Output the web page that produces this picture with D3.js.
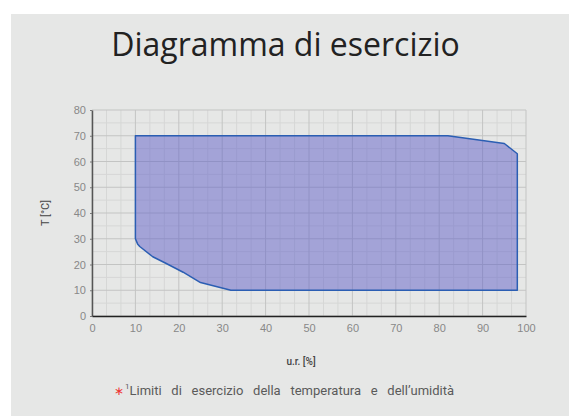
<!DOCTYPE html>
<html>
<head>
<meta charset="utf-8">
<script src="https://cdn.jsdelivr.net/npm/d3@7"></script>
<style>
  body { margin: 0; background: #fff; }
</style>
</head>
<body>
<div class="graph"></div>
<script>
// operating envelope: u.r. [%] vs T [°C]
const humidity    = [10, 10.5, 11, 14, 17, 21, 25, 32, 98, 98, 95, 82, 10]
const temperature = [30, 28, 27, 23, 20.5, 17, 13, 10, 10, 63, 67, 70, 70]

const xTicks = [0, 10, 20, 30, 40, 50, 60, 70, 80, 90, 100]
const yTicks = [0, 10, 20, 30, 40, 50, 60, 70, 80]

const width = 569, height = 416
const margin = {top: 110, right: 43, bottom: 100, left: 92}

const svg = d3.select(".graph").append("svg")
    .attr("width", width)
    .attr("height", height)
    .style("font-family", "Roboto, sans-serif")

svg.append("rect")
    .attr("x", 11)
    .attr("y", 14)
    .attr("width", width - 11)
    .attr("height", height - 14)
    .style("fill", "#e6e7e6")

const scaleX = d3.scaleLinear()
    .domain([0, 100])
    .range([margin.left, width - margin.right])

const scaleY = d3.scaleLinear()
    .domain([0, 80])
    .range([height - margin.bottom, margin.top])

// grid: minor lines first, major on top
const minorX = d3.range(0, 31).map(i => i * 10 / 3).filter(v => Math.abs(v % 10) > 0.01 && Math.abs(v % 10 - 10) > 0.01)
const minorY = d3.range(5, 80, 10)

const grid = svg.append("g")
grid.selectAll(".mx").data(minorX).join("line")
    .attr("x1", d => scaleX(d)).attr("x2", d => scaleX(d))
    .attr("y1", scaleY(0)).attr("y2", scaleY(80))
    .style("stroke", "#d6d7d6").style("stroke-width", 1)
grid.selectAll(".my").data(minorY).join("line")
    .attr("x1", scaleX(0)).attr("x2", scaleX(100))
    .attr("y1", d => scaleY(d)).attr("y2", d => scaleY(d))
    .style("stroke", "#d6d7d6").style("stroke-width", 1)
grid.selectAll(".Mx").data(xTicks).join("line")
    .attr("x1", d => scaleX(d)).attr("x2", d => scaleX(d))
    .attr("y1", scaleY(0)).attr("y2", scaleY(80))
    .style("stroke", "#c3c4c3").style("stroke-width", 1)
grid.selectAll(".My").data(yTicks).join("line")
    .attr("x1", scaleX(0)).attr("x2", scaleX(100))
    .attr("y1", d => scaleY(d)).attr("y2", d => scaleY(d))
    .style("stroke", "#c3c4c3").style("stroke-width", 1)

// envelope
const pts = humidity.map((h, i) => [scaleX(h), scaleY(temperature[i])])
svg.append("path")
    .datum(pts)
    .attr("d", d3.line().curve(d3.curveLinearClosed))
    .style("fill", "rgba(96, 96, 200, 0.5)")
    .style("stroke", "#2b5eb3")
    .style("stroke-width", 1.5)
    .style("stroke-linejoin", "round")

// axes
const xAxis = g => g
    .attr("transform", `translate(0, ${scaleY(0)})`)
    .call(d3.axisBottom(scaleX).tickValues(xTicks).tickSize(0).tickPadding(8))
    .call(g => g.select(".domain").style("stroke", "#222").style("stroke-width", 1.5))
    .call(g => g.selectAll("text").style("fill", "#888").style("font-size", "11px"))

const yAxis = g => g
    .attr("transform", `translate(${scaleX(0)}, 0)`)
    .call(d3.axisLeft(scaleY).tickValues(yTicks).tickSize(2).tickPadding(4).tickSizeOuter(0))
    .call(g => g.select(".domain").style("stroke", "#555").style("stroke-width", 1.5))
    .call(g => g.selectAll(".tick line").style("stroke", "#777"))
    .call(g => g.selectAll("text").style("fill", "#888").style("font-size", "11px"))

svg.append("g").call(yAxis)
svg.append("g").call(xAxis)

// texts
svg.append("text")
    .attr("x", 285.5)
    .attr("y", 56)
    .attr("text-anchor", "middle")
    .style("font-family", "'Open Sans', sans-serif")
    .style("font-size", "32px")
    .style("fill", "#222")
    .text("Diagramma di esercizio")

svg.append("text")
    .attr("transform", `translate(49, ${(scaleY(0) + scaleY(80)) / 2}) rotate(-90)`)
    .attr("text-anchor", "middle")
    .style("font-size", "11px")
    .style("fill", "#444")
    .text("T [°C]")

svg.append("text")
    .attr("x", 301)
    .attr("y", 365)
    .attr("text-anchor", "middle")
    .style("font-size", "10px")
    .style("font-weight", "500")
    .style("fill", "#444")
    .text("u.r. [%]")

const note = svg.append("text")
    .attr("x", 114)
    .attr("y", 395)
    .style("font-size", "13px")
    .style("fill", "#5a5a5a")
    .style("word-spacing", "6.5px")
note.append("tspan").text("∗").style("fill", "#e33").style("font-size", "12px")
note.append("tspan").text("1").attr("dy", -6).style("font-size", "8px").attr("dx", 1)
note.append("tspan").text("Limiti di esercizio della temperatura e dell’umidità").attr("dy", 6)
</script>
</body>
</html>
